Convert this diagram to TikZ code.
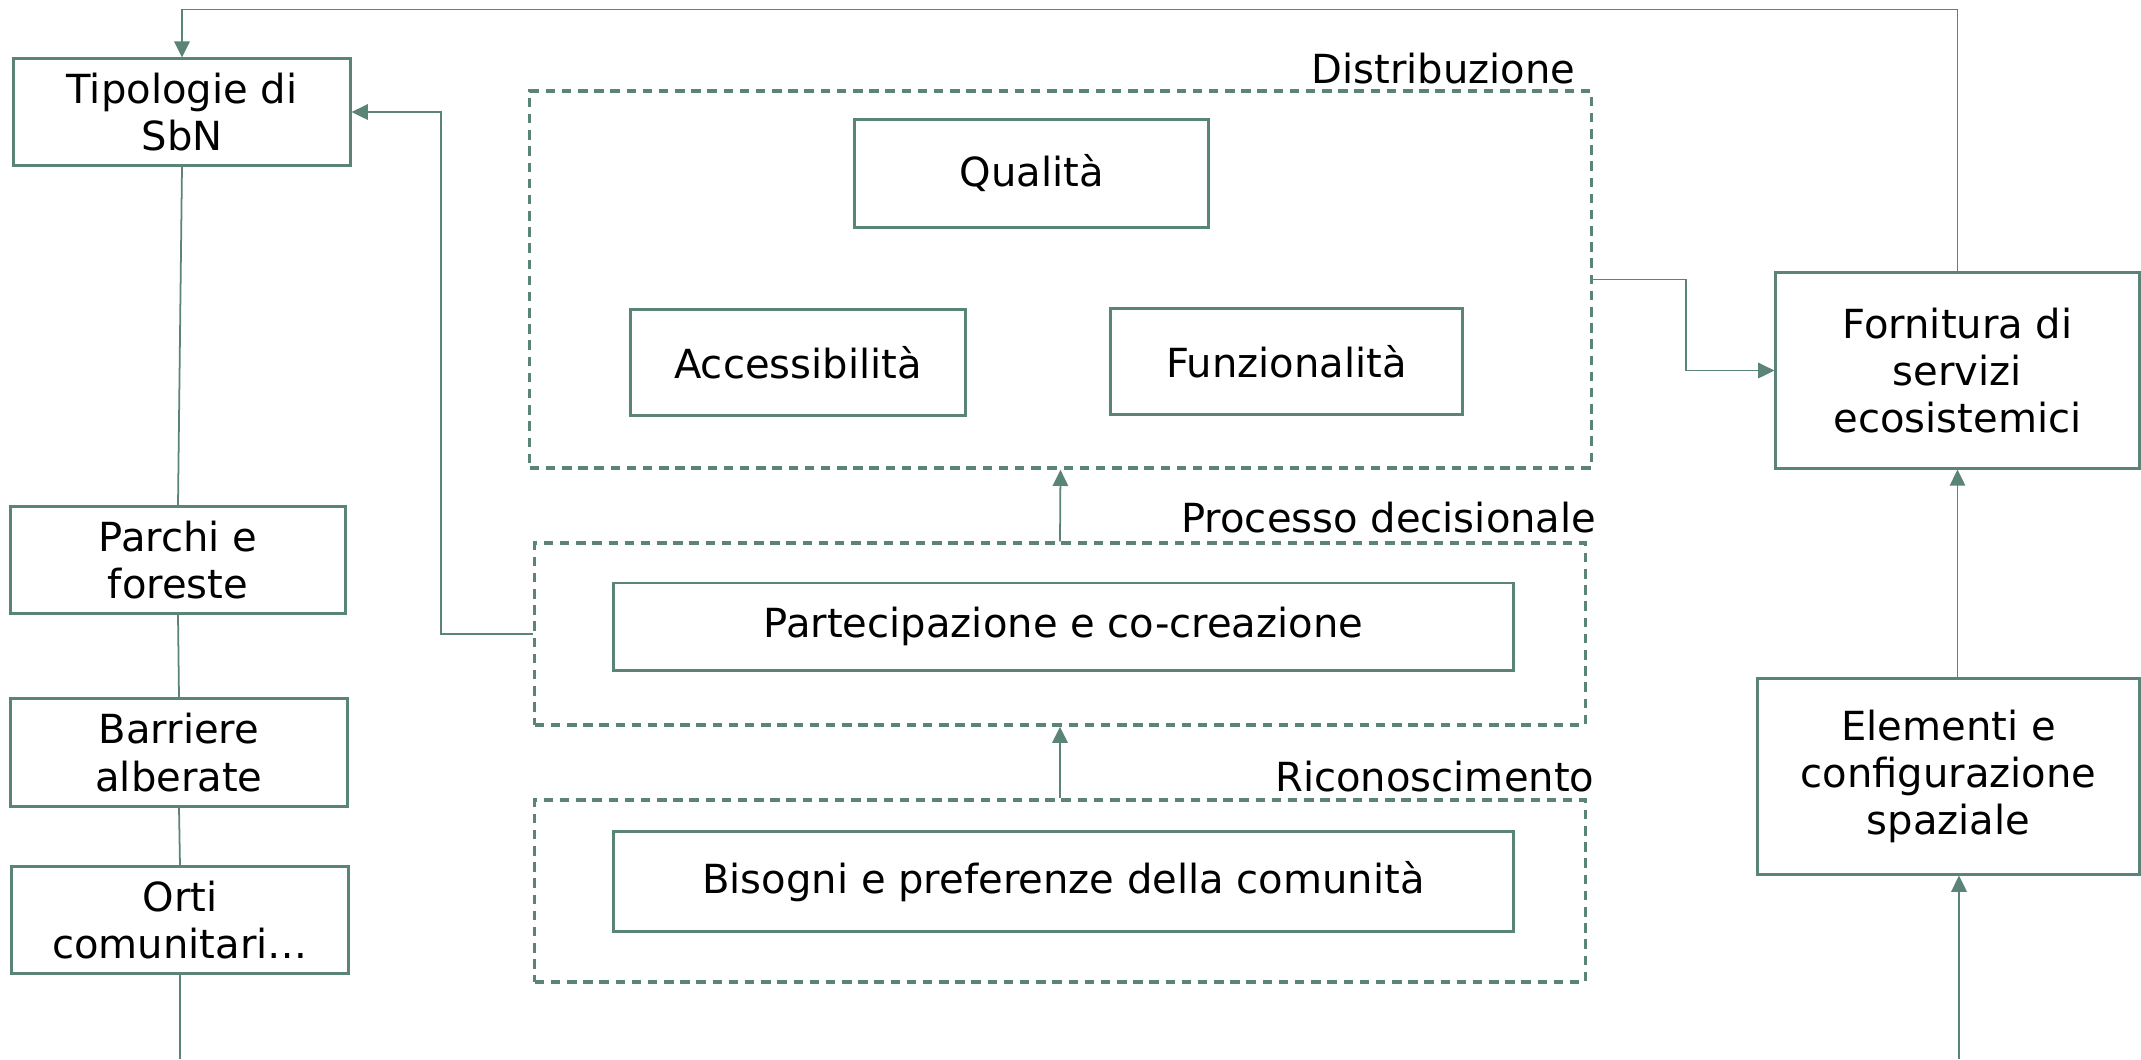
\documentclass[tikz,border=0pt]{standalone}
\usepackage{fontspec}
\setmainfont{DejaVu Sans}
\usetikzlibrary{arrows.meta}
\definecolor{sbngreen}{HTML}{5A8478}

\begin{document}
\begin{tikzpicture}[x=0.01cm, y=-0.01cm,
		box/.style={draw=sbngreen, line width=0.85pt, align=center, inner sep=0pt, font=\fontsize{11.4}{13.4}\selectfont},
		group/.style={draw=sbngreen, line width=0.95pt, dash pattern=on 2.7pt off 1.9pt, inner sep=0pt},
		grouplabel/.style={anchor=base east, inner sep=0pt, font=\fontsize{11.4}{13.4}\selectfont},
		link/.style={draw=sbngreen, line width=0.5pt},
		arr/.style={link, -{Triangle[length=4.6pt,width=4.4pt]}}]
		\useasboundingbox (0,0) rectangle (2141,1059);

		%Tipologie
		\node[box, minimum width=3.36cm, minimum height=1.06cm] (tip) at (182,112) {Tipologie di\\SbN};
		\node[box, minimum width=3.34cm, minimum height=1.06cm] (parchi) at (178,560) {Parchi e\\foreste};
		\node[box, minimum width=3.36cm, minimum height=1.07cm] (barriere) at (179,752.5) {Barriere\\alberate};
		\node[box, minimum width=3.36cm, minimum height=1.06cm] (orti) at (180,920) {Orti\\comunitari…};
		\coordinate (orti_end) at (180,1059);

		%Distribuzione
		\node[group, minimum width=10.61cm, minimum height=3.77cm] (distr) at (1060.5,279.5) {};
		\node[grouplabel] (distr_lbl) at (1576,83) {Distribuzione};
		\node[box, minimum width=3.53cm, minimum height=1.07cm] (qual) at (1031.5,173.5) {Qualità};
		\node[box, minimum width=3.34cm, minimum height=1.05cm] (acc) at (798,362.5) {Accessibilità};
		\node[box, minimum width=3.51cm, minimum height=1.05cm] (funz) at (1286.5,361.5) {Funzionalità};

		%Processo decisionale
		\node[group, minimum width=10.50cm, minimum height=1.82cm] (proc) at (1060,634) {};
		\node[grouplabel] (proc_lbl) at (1597,532) {Processo decisionale};
		\node[box, minimum width=8.99cm, minimum height=0.87cm] (part) at (1063.5,626.5) {Partecipazione e co-creazione};

		%Riconoscimento
		\node[group, minimum width=10.50cm, minimum height=1.82cm] (ricon) at (1060,891) {};
		\node[grouplabel] (ricon_lbl) at (1595,791) {Riconoscimento};
		\node[box, minimum width=8.99cm, minimum height=0.99cm] (bis) at (1063.5,881.5) {Bisogni e preferenze della comunità};

		%Servizi
		\node[box, minimum width=3.63cm, minimum height=1.95cm] (forn) at (1957.5,370.5) {Fornitura di\\servizi\\ecosistemici};
		\node[box, minimum width=3.81cm, minimum height=1.95cm] (elem) at (1948.5,776.5) {Elementi e\\configurazione\\spaziale};
		\coordinate (elem_in) at (1959,1059);

		%connections
		\draw[link] (tip.south) -- (parchi.north);
		\draw[link] (parchi.south) -- (barriere.north);
		\draw[link] (barriere.south) -- (orti.north);
		\draw[link] (orti.south) -- (orti_end);
		\draw[arr] (ricon.north) -- (proc.south);
		\draw[arr] (proc.north) -- (distr.south);
		\draw[arr] (proc.west) -- ++(-92,0) |- (tip.east);
		\draw[arr] (distr.east) -- ++(93,0) |- (forn.west);
		\draw[arr] (forn.north) -- ++(0,-262) -| (tip.north);
		\draw[arr] (forn.south |- elem.north) -- (forn.south);
		\draw[arr] (elem_in) -- (elem_in |- elem.south);

	\end{tikzpicture}
\end{document}
